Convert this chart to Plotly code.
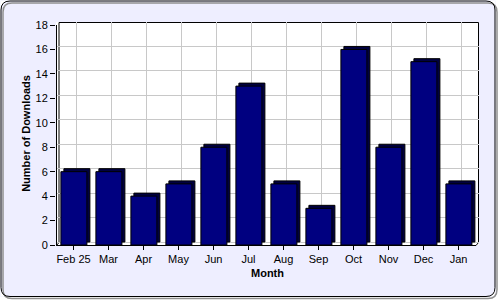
import plotly.graph_objects as go

months = ["Feb 25", "Mar", "Apr", "May", "Jun", "Jul", "Aug", "Sep", "Oct", "Nov", "Dec", "Jan"]
downloads = [6, 6, 4, 5, 8, 13, 5, 3, 16, 8, 15, 5]
y_ticks = list(range(0, 19, 2))

xs = list(range(len(months)))

W, H = 500, 300
L, R, T, B = 56, 21, 22, 55
PW = W - L - R
PH = H - T - B

def px(x):
    return (x - L) / PW

def py(y):
    return (H - B - y) / PH

depth_x = 3 / 35            # 3D depth in category units
depth_y = 3 / (220 / 18)    # 3D depth in value units
bw = 26 / 35
off = -0.36

fig = go.Figure()
# depth (3D side/top)
fig.add_trace(go.Bar(
    x=xs, y=downloads, base=depth_y,
    width=bw, offset=off + depth_x,
    marker=dict(color="#000040", line=dict(color="black", width=1)),
    hoverinfo="skip", showlegend=False,
))
# front faces
fig.add_trace(go.Bar(
    x=xs, y=downloads,
    width=bw, offset=off,
    marker=dict(color="#000080", line=dict(color="black", width=1)),
    showlegend=False,
))

font = dict(family="Liberation Sans, Arial, sans-serif", size=11, color="black")

def rounded(x0, y0, x1, y1, r):
    return (f"M {px(x0 + r)},{py(y0)} L {px(x1 - r)},{py(y0)} Q {px(x1)},{py(y0)} {px(x1)},{py(y0 + r)} "
            f"L {px(x1)},{py(y1 - r)} Q {px(x1)},{py(y1)} {px(x1 - r)},{py(y1)} "
            f"L {px(x0 + r)},{py(y1)} Q {px(x0)},{py(y1)} {px(x0)},{py(y1 - r)} "
            f"L {px(x0)},{py(y0 + r)} Q {px(x0)},{py(y0)} {px(x0 + r)},{py(y0)} Z")

def corner(cx, cy, sx, sy, r):
    return (f"M {px(cx)},{py(cy)} L {px(cx + sx * r)},{py(cy)} "
            f"Q {px(cx)},{py(cy)} {px(cx)},{py(cy + sy * r)} Z")

x0, y0, x1, y1, r = 1, 1, 495, 296.5, 9
white = dict(color="white", width=0)
shapes = [
    dict(type="rect", xref="paper", yref="paper", layer="above",
         x0=px(x1 + 0.5), x1=px(W + 2), y0=py(H + 2), y1=py(-2), fillcolor="white", line=white),
    dict(type="rect", xref="paper", yref="paper", layer="above",
         x0=px(-2), x1=px(W + 2), y0=py(H + 2), y1=py(y1 + 0.5), fillcolor="white", line=white),
    dict(type="rect", xref="paper", yref="paper", layer="above",
         x0=px(-2), x1=px(x0 - 0.5), y0=py(H + 2), y1=py(-2), fillcolor="white", line=white),
    dict(type="rect", xref="paper", yref="paper", layer="above",
         x0=px(-2), x1=px(W + 2), y0=py(y0 - 0.5), y1=py(-2), fillcolor="white", line=white),
    dict(type="path", xref="paper", yref="paper", layer="above",
         path=corner(x0, y0, 1, 1, r), fillcolor="white", line=white),
    dict(type="path", xref="paper", yref="paper", layer="above",
         path=corner(x1, y0, -1, 1, r), fillcolor="white", line=white),
    dict(type="path", xref="paper", yref="paper", layer="above",
         path=corner(x0, y1, 1, -1, r), fillcolor="white", line=white),
    dict(type="path", xref="paper", yref="paper", layer="above",
         path=corner(x1, y1, -1, -1, r), fillcolor="white", line=white),
    # shadow
    dict(type="path", xref="paper", yref="paper", layer="above",
         path=rounded(x0 + 2, y0 + 2, x1 + 2, y1 + 2, r),
         line=dict(color="#909090", width=1.5)),
    # frame
    dict(type="path", xref="paper", yref="paper", layer="above",
         path=rounded(x0, y0, x1, y1, r),
         fillcolor="rgba(0,0,0,0)", line=dict(color="black", width=1)),
    # back wall outline
    dict(type="rect", xref="paper", yref="paper", layer="below",
         x0=px(59), x1=px(478.5), y0=py(242.5), y1=py(22.5),
         line=dict(color="black", width=1)),
    # floor outline
    dict(type="path", xref="paper", yref="paper", layer="below",
         path=f"M {px(56.5)},{py(245.5)} L {px(59)},{py(242.5)} L {px(478.5)},{py(242.5)} L {px(476)},{py(245.5)} Z",
         line=dict(color="black", width=1)),
]

fig.update_layout(
    width=W, height=H, autosize=False,
    margin=dict(l=L, r=R, t=T, b=B),
    paper_bgcolor="#EEEEFF", plot_bgcolor="white",
    barmode="overlay", font=font, shapes=shapes,
    xaxis=dict(range=[-0.5, len(months) - 0.5 + depth_x],
               tickvals=xs, ticktext=months, ticks="outside", ticklen=4,
               tickcolor="black", showline=False, showgrid=False, zeroline=False,
               tickfont=font,
               minor=dict(tickmode="array", tickvals=[v + depth_x for v in xs],
                          showgrid=True, gridcolor="#C8C8C8", gridwidth=1, ticks=""),
               title=dict(text="Month", font=dict(font, weight="bold"), standoff=5)),
    yaxis=dict(range=[0, 18 + depth_y], tickvals=y_ticks,
               ticks="outside", ticklen=5, tickcolor="black", showline=False,
               showgrid=False, zeroline=False, tickfont=font,
               minor=dict(tickmode="array", tickvals=[v + depth_y for v in y_ticks],
                          showgrid=True, gridcolor="#C8C8C8", gridwidth=1, ticks=""),
               title=dict(text="Number of Downloads", font=dict(font, weight="bold"), standoff=2)),
)

# front axis lines (y axis from 0 to 18, x axis across categories)
fig.add_shape(type="line", xref="paper", yref="paper", layer="above",
              x0=px(56.5), x1=px(56.5), y0=py(245.5), y1=py(25), line=dict(color="black", width=1))
fig.add_shape(type="line", xref="paper", yref="paper", layer="below",
              x0=px(56.5), x1=px(476), y0=py(245.5), y1=py(245.5), line=dict(color="black", width=1))

fig.write_html("out.html")
